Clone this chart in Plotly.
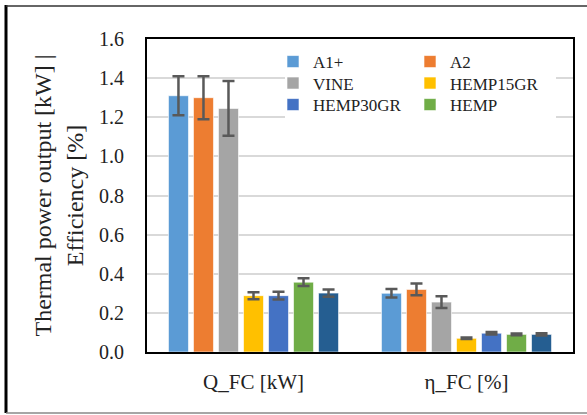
import plotly.graph_objects as go

categories = ["Q_FC [kW]", "η_FC [%]"]
series_names = ["A1+", "A2", "VINE", "HEMP15GR", "HEMP30GR", "HEMP", "Series 7"]
a1_vals = [1.31, 0.30]
a2_vals = [1.30, 0.32]
vine_vals = [1.245, 0.255]
hemp15_vals = [0.288, 0.070]
hemp30_vals = [0.288, 0.096]
hemp_vals = [0.357, 0.090]
s7_vals = [0.301, 0.090]
a1_err = [0.10, 0.022]
a2_err = [0.11, 0.03]
vine_err = [0.14, 0.03]
hemp15_err = [0.018, 0.004]
hemp30_err = [0.02, 0.006]
hemp_err = [0.02, 0.005]
s7_err = [0.018, 0.006]
colors = ["#5B9BD5", "#ED7D31", "#A5A5A5", "#FFC000", "#4472C4", "#70AD47", "#255E91"]
legend_ids = ["legend", "legend", "legend2", "legend2", "legend3", "legend3", None]

values = [a1_vals, a2_vals, vine_vals, hemp15_vals, hemp30_vals, hemp_vals, s7_vals]
errors = [a1_err, a2_err, vine_err, hemp15_err, hemp30_err, hemp_err, s7_err]

FONT = "Liberation Serif"

fig = go.Figure()
for name, vals, errs, col, lg in zip(series_names, values, errors, colors, legend_ids):
    kw = dict(
        x=categories, y=vals, name=name,
        marker=dict(color=col, line=dict(color="rgba(255,255,255,0.6)", width=1)),
        error_y=dict(type="data", array=errs, visible=True, color="#595959",
                     thickness=2.5, width=6),
    )
    if lg is None:
        kw["showlegend"] = False
    else:
        kw["legend"] = lg
    fig.add_trace(go.Bar(**kw))

W, H = 587, 415
L, R, T, B = 147, 14, 39, 63
pw, ph = W - L - R, H - T - B

def px_x(x):
    return (x - L) / pw

def px_y(y):
    return (H - B - y) / ph

legend_common = dict(
    bgcolor="rgba(0,0,0,0)", borderwidth=0, orientation="h",
    font=dict(family=FONT, size=17, color="#222"),
    xanchor="left", yanchor="middle", itemwidth=30,
    entrywidth=92, entrywidthmode="pixels",
    x=px_x(273),
)

fig.update_layout(
    width=W, height=H,
    margin=dict(l=L, r=R, t=T, b=B),
    paper_bgcolor="white", plot_bgcolor="white",
    barmode="group", bargap=0.178, bargroupgap=0.2,
    font=dict(family=FONT, color="#222"),
    legend=dict(**legend_common, y=px_y(62)),
    legend2=dict(**legend_common, y=px_y(83.5)),
    legend3=dict(**legend_common, y=px_y(105)),
    xaxis=dict(
        showline=True, linecolor="black", linewidth=2, mirror=True,
        tickfont=dict(family=FONT, size=21, color="#222"),
        ticks="", ticklabelstandoff=10,
    ),
    yaxis=dict(
        range=[0, 1.6], dtick=0.2, tickformat=".1f",
        showline=True, linecolor="black", linewidth=2, mirror=True,
        showgrid=True, gridcolor="#D9D9D9", gridwidth=1.5,
        zeroline=False,
        tickfont=dict(family=FONT, size=20, color="#222"),
        ticks="", ticklabelstandoff=17,
        title=dict(text="Thermal power output [kW] |<br>Efficiency [%]",
                   font=dict(family=FONT, size=24, color="#222"), standoff=9),
    ),
    shapes=[
        dict(type="rect", xref="paper", yref="paper", layer="above",
             x0=px_x(285), x1=px_x(556), y0=px_y(118), y1=px_y(44),
             fillcolor="white", line=dict(width=0)),
        dict(type="line", xref="paper", yref="paper", x0=px_x(6), x1=px_x(6),
             y0=px_y(5), y1=px_y(413), line=dict(color="black", width=3)),
        dict(type="line", xref="paper", yref="paper", x0=px_x(6), x1=px_x(587),
             y0=px_y(6), y1=px_y(6), line=dict(color="#333", width=1.5)),
        dict(type="line", xref="paper", yref="paper", x0=px_x(6), x1=px_x(587),
             y0=px_y(413), y1=px_y(413), line=dict(color="#888", width=1.5)),
    ],
)

fig.write_html("out.html", config={"displayModeBar": False},
               post_script="document.body.style.margin='0';")
